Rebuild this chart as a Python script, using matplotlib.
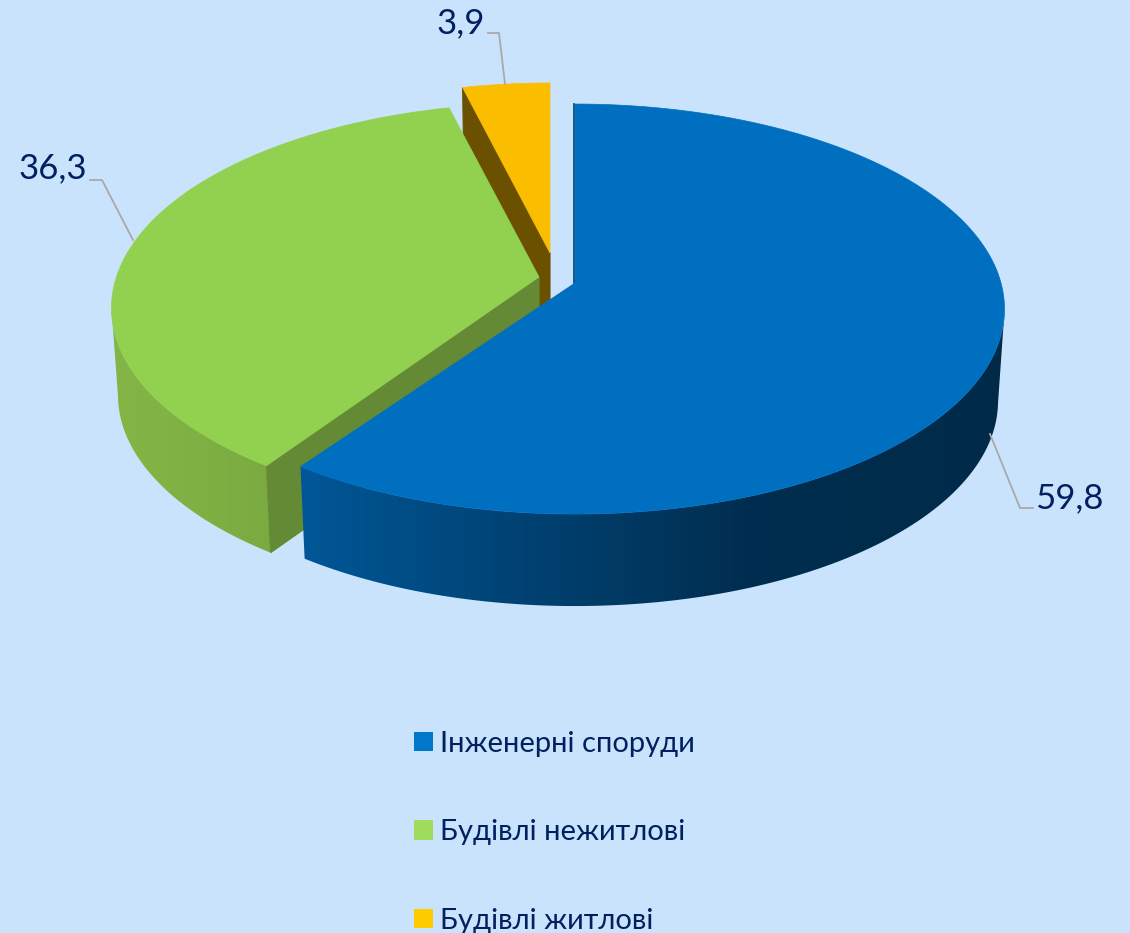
import numpy as np
import matplotlib
matplotlib.use("Agg")
import matplotlib.pyplot as plt
from matplotlib.patches import Polygon, Patch
from matplotlib.colors import LinearSegmentedColormap

plt.rcParams['font.family'] = ['Lato', 'Open Sans', 'DejaVu Sans']

categories = ["Інженерні споруди", "Будівлі нежитлові", "Будівлі житлові"]
values = [59.8, 36.3, 3.9]
value_labels = ["59,8", "36,3", "3,9"]

bg = "#c9e3fd"
text_col = "#002060"
top_cols = ["#006fc0", "#92d050", "#fbbd00"]
legend_cols = ["#0077c8", "#a0dc5c", "#ffcc00"]
side_cols = ["#648a35", "#6b5000"]
leader_col = "#a9a9a9"

# pie geometry in pixels
R = 426
B = 201.7
k = 0.127
centre = [(575, 283), (541, 282), (550, 253)]
tip = [(575, 283), (539, 277), (550, 253)]
scale = [1.0, 1.0, 0.95]
depth = [92, 87, 85]

blue_wall = LinearSegmentedColormap.from_list(
    "b", [(0, "#00589a"), (0.2, "#004a80"), (0.62, "#002e50"), (1, "#002a48")])
green_wall = LinearSegmentedColormap.from_list("g", ["#84b747", "#7aaa40"])


def rim(i, a, bottom=False):
    # a in radians, clockwise from 12 o'clock
    u, v = np.sin(a), np.cos(a)
    w = 1 + k * v
    s = 0.985 if bottom else 1.0
    x = centre[i][0] + s * scale[i] * R * u / w
    y = centre[i][1] - scale[i] * B * v / w + (depth[i] if bottom else 0)
    return x, y


fig = plt.figure(figsize=(11.30, 9.33), dpi=100, facecolor=bg)
ax = fig.add_axes([0, 0, 1, 1])

edges = np.cumsum([0] + values) / sum(values) * 2 * np.pi


def outer_wall(i, cmap, x0, x1):
    a = np.linspace(edges[i], edges[i + 1], 300)
    a = a[np.cos(a) < -k]  # the wall shows only up to the widest point of the ellipse
    xt, yt = rim(i, a)
    xb, yb = rim(i, a, bottom=True)
    pts = list(zip(xt, yt)) + list(zip(xb[::-1], yb[::-1]))
    poly = Polygon(pts, facecolor="none", edgecolor="none", zorder=2 + (2 - i) * 3)
    ax.add_patch(poly)
    img = ax.imshow(np.linspace(0, 1, 256).reshape(1, -1), cmap=cmap, extent=(x0, x1, 933, 0),
                    aspect="auto", zorder=2 + (2 - i) * 3)
    img.set_clip_path(poly)


def top_face(i):
    a = np.linspace(edges[i], edges[i + 1], 200)
    x, y = rim(i, a)
    pts = [tip[i]] + list(zip(x, y))
    ax.add_patch(Polygon(pts, facecolor=top_cols[i], edgecolor=top_cols[i], lw=0.5, zorder=4 + (2 - i) * 3))


def cut_face(i, a, col):
    x, y = rim(i, a)
    xb, yb = rim(i, a, bottom=True)
    px, py = tip[i]
    pts = [(px, py), (x, y), (xb, yb), (px, py + depth[i])]
    ax.add_patch(Polygon(pts, facecolor=col, edgecolor=col, lw=0.8, zorder=3 + (2 - i) * 3))


# yellow slice, at the back
cut_face(2, edges[2], side_cols[1])
top_face(2)

# green slice
outer_wall(1, green_wall, 100, 285)
cut_face(1, edges[1], side_cols[0])
top_face(1)

# blue slice
outer_wall(0, blue_wall, 290, 1020)
ax.plot([tip[0][0] - 1, tip[0][0] - 1], [tip[0][1], 104], color="#003a66", lw=1.2, zorder=3)
top_face(0)

ax.set_xlim(0, 1130)
ax.set_ylim(933, 0)
ax.axis("off")

# value labels with leader lines
ax.plot([990, 1020, 1033], [434, 508, 508], color=leader_col, lw=1.3, zorder=20)
ax.plot([90, 102, 133], [180, 180, 240], color=leader_col, lw=1.3, zorder=20)
ax.plot([488, 499, 505], [33, 33, 84], color=leader_col, lw=1.3, zorder=20)
ax.text(1069, 498, value_labels[0], color=text_col, fontsize=25, ha="center", va="center", zorder=21)
ax.text(53, 168, value_labels[1], color=text_col, fontsize=25, ha="center", va="center", zorder=21)
ax.text(461, 23, value_labels[2], color=text_col, fontsize=25, ha="center", va="center", zorder=21)

handles = [Patch(facecolor=c, edgecolor="none") for c in legend_cols]
ax.legend(handles, categories, loc="upper left", bbox_to_anchor=(414, 731), bbox_transform=ax.transData,
          frameon=False, fontsize=21, labelcolor=text_col, handlelength=0.65, handleheight=0.65,
          handletextpad=0.25, labelspacing=2.14, borderaxespad=0, borderpad=0)

fig.savefig("out.png", dpi=100, facecolor=bg)
